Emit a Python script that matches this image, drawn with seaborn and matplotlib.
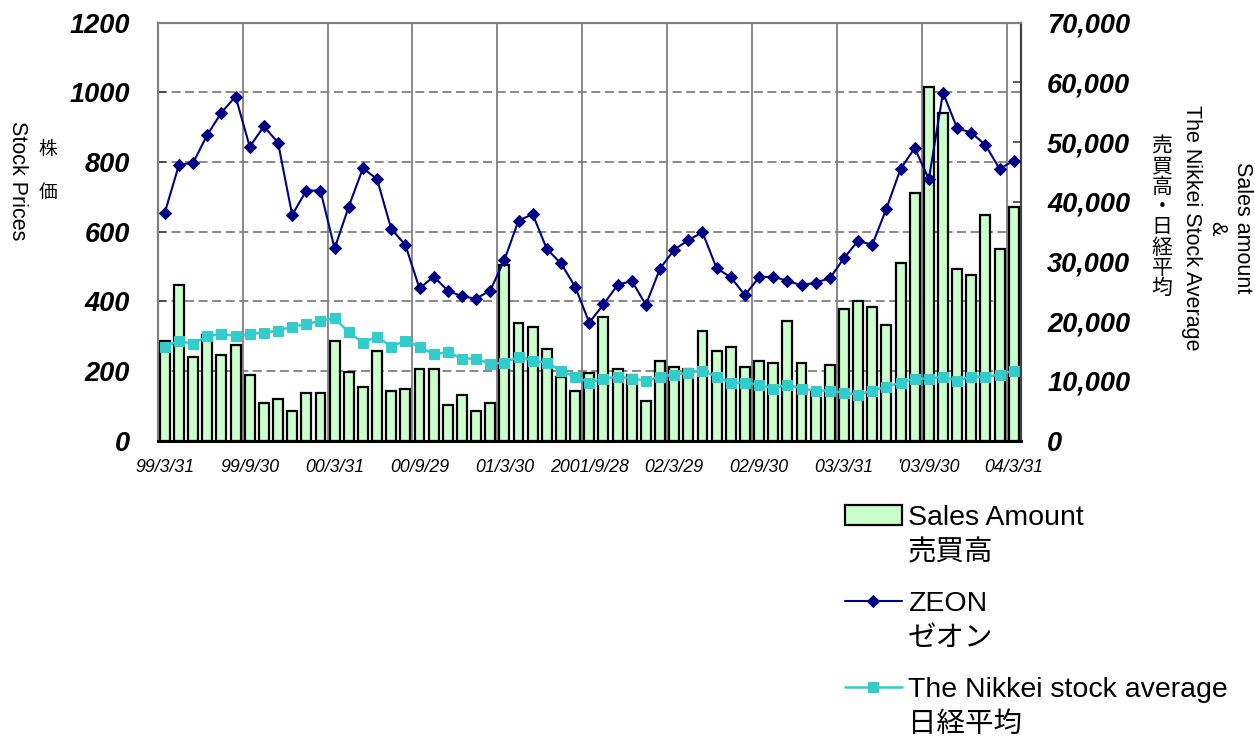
import matplotlib
matplotlib.use("Agg")
import matplotlib.pyplot as plt
from matplotlib.lines import Line2D
from matplotlib.ticker import FuncFormatter
import numpy as np
import pandas as pd
import seaborn as sns

# month-end dates, 99/3/31 .. 04/3/31 (61 months), label every 6th month
tick_labels = ["99/3/31", "99/9/30", "00/3/31", "00/9/29", "01/3/30", "2001/9/28",
               "02/3/29", "02/9/30", "03/3/31", "'03/9/30", "04/3/31"]

# ZEON stock price (left axis)
zeon = [655, 792, 798, 878, 942, 988, 844, 902, 856, 648, 718, 718,
        552, 672, 782, 751, 608, 562, 437, 471, 431, 414, 408, 431,
        519, 632, 650, 550, 509, 442, 339, 391, 447, 459, 390, 494,
        548, 576, 598, 495, 469, 418, 469, 471, 459, 446, 454, 466,
        524, 574, 562, 666, 780, 840, 751, 999, 897, 884, 849, 780, 804]

# Nikkei stock average (right axis)
nikkei = [15750, 16750, 16200, 17540, 17870, 17540, 17870, 18090, 18420, 19100, 19500, 20100,
          20500, 18160, 16420, 17420, 15750, 16750, 15750, 14470, 14810, 13740, 13740, 12850,
          13070, 14070, 13400, 13070, 11730, 10720, 9720, 10390, 10720, 10390, 10050, 10720,
          11060, 11390, 11730, 10720, 9720, 9720, 9380, 8710, 9380, 8710, 8380, 8380,
          8040, 7710, 8380, 9050, 9720, 10390, 10390, 10720, 10050, 10720, 10720, 11060, 11730]

# sales amount (right axis)
sales = [16750, 26080, 14070, 17700, 14350, 16030, 11000, 6270, 6990, 5030, 8040, 8040,
         16750, 11460, 9050, 15080, 8380, 8710, 12060, 12060, 5980, 7660, 5030, 6370,
         29430, 19770, 19100, 15410, 10720, 8380, 11390, 20770, 12060, 11060, 6700, 13400,
         12400, 12060, 18430, 15080, 15750, 12400, 13400, 13070, 20100, 13070, 8200, 12730,
         22110, 23400, 22450, 19430, 29820, 41540, 59300, 54840, 28810, 27810, 37860, 32160, 39150]

df = pd.DataFrame({"month": range(len(zeon)), "zeon": zeon, "nikkei": nikkei, "sales": sales})

sns.set_theme(style="white")
fonts = ["Liberation Sans", "Noto Sans CJK JP"]
plt.rcParams["font.family"] = fonts
plt.rcParams["text.color"] = "black"
plt.rcParams["xtick.color"] = "black"
plt.rcParams["ytick.color"] = "black"

fig = plt.figure(figsize=(12.55, 7.41), dpi=100)
ax1 = fig.add_axes([0.1257, 0.4053, 0.6877, 0.5641])
ax2 = ax1.twinx()
ax3 = ax1.twinx()

sns.barplot(data=df, x="month", y="sales", ax=ax2, color="#CCFFCC", saturation=1,
            edgecolor="black", linewidth=1.6, width=0.7, errorbar=None)
sns.lineplot(data=df, x="month", y="nikkei", ax=ax2, color="#33CCCC", marker="s",
             markersize=6.5, markeredgecolor="#33CCCC", linewidth=1.8)
sns.lineplot(data=df, x="month", y="zeon", ax=ax3, color="#000080", marker="D",
             markersize=6, markeredgecolor="#000080", linewidth=1.5)

ax1.set_xlim(-0.5, len(zeon) - 0.5)
ax1.set_ylim(0, 1200)
ax2.set_ylim(0, 70000)
ax3.set_ylim(0, 1200)
ax3.set_axis_off()
for a in (ax1, ax2):
    a.set_xlabel("")
    a.set_ylabel("")

# grid
ax1.grid(False)
ax2.grid(False)
ax1.set_yticks(range(0, 1201, 200))
ax1.grid(axis="y", which="major", color="#808080", linewidth=1.3, linestyle=(0, (5, 2.5)))
ax1.set_xticks(range(0, len(zeon), 6))
ax1.set_xticklabels(tick_labels, fontstyle="italic", fontsize=12.8, color="black")
ax1.set_xticks(np.arange(5.5, len(zeon) - 1, 6), minor=True)
ax1.grid(axis="x", which="minor", color="#808080", linewidth=1.3, linestyle="-")
ax1.tick_params(axis="x", which="major", length=0, pad=13)
ax1.tick_params(axis="x", which="minor", direction="in", length=5, color="#404040", width=1.3)

ax1.tick_params(axis="y", direction="in", length=6, color="#404040", width=1.2, pad=20, left=True,
                labelcolor="black")
for t in ax1.get_yticklabels():
    t.set_fontweight("bold")
    t.set_fontstyle("italic")
    t.set_fontsize(19.5)

ax2.set_yticks(range(0, 70001, 10000))
ax2.yaxis.set_major_formatter(FuncFormatter(lambda v, p: f"{int(v):,}"))
ax2.tick_params(axis="y", direction="in", length=6, color="#404040", width=1.2, pad=19, right=True,
                labelcolor="black")
for t in ax2.get_yticklabels():
    t.set_fontweight("bold")
    t.set_fontstyle("italic")
    t.set_fontsize(19.5)

for a in (ax1, ax2):
    for s in a.spines.values():
        s.set_color("#808080")
        s.set_linewidth(1.5)
    a.spines["bottom"].set_color("black")
    a.spines["bottom"].set_linewidth(2)
    a.spines["right"].set_color("#404040")

# axis titles
fig.text(17 / 1255, 1 - 181 / 741, "Stock Prices", rotation=-90, ha="center", va="center", fontsize=15.5)
fig.text(48 / 1255, 1 - 172 / 741, "株\n価", ha="center", va="center", fontsize=13.5, linespacing=3.0)
fig.text(1162 / 1255, 1 - 218 / 741, "\n".join("売買高・日経平均"), ha="center", va="center",
         fontsize=15, linespacing=1.07)
fig.text(1217 / 1255, 1 - 228 / 741, "Sales amount\n&\nThe Nikkei Stock Average", rotation=-90,
         ha="center", va="center", multialignment="center", fontsize=15.5, linespacing=1.3)

# legend: one block per series, handle next to the English line
bar_handle = ax2.patches[0]
nikkei_handle = ax2.lines[0]
zeon_handle = ax3.lines[0]
blank = Line2D([], [], linewidth=0)
entries = [
    (bar_handle, "Sales Amount", "売買高", 505),
    (zeon_handle, "ZEON", "ゼオン", 591),
    (nikkei_handle, "The Nikkei stock average", "日経平均", 677),
]
for h, en, jp, ytop in entries:
    leg = fig.legend([h, blank], [en, jp], loc="upper left",
                     bbox_to_anchor=(845 / 1255, 1 - ytop / 741), frameon=False,
                     borderpad=0, borderaxespad=0, handlelength=2.0, handletextpad=0.2,
                     labelspacing=0.33, prop={"family": fonts, "size": 20.5})
    for txt in leg.get_texts():
        txt.set_color("black")

fig.savefig("out.png", dpi=100)
